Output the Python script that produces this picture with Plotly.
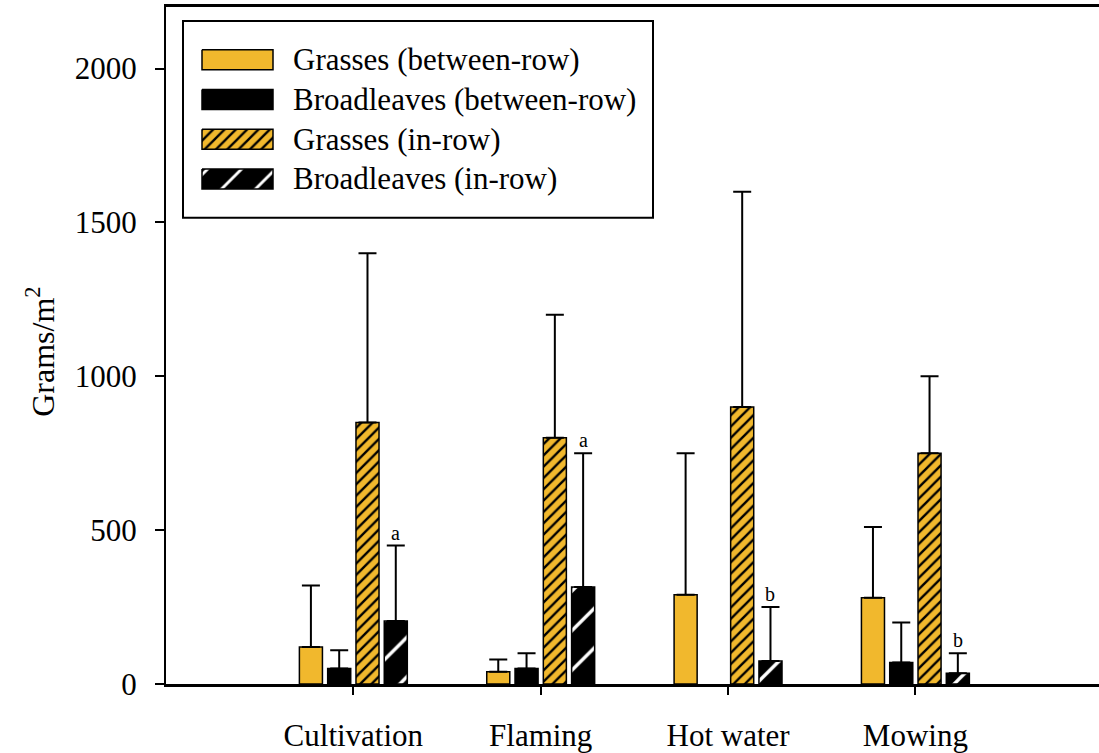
import plotly.graph_objects as go

# Weed biomass by control method (g/m^2), mean with upper error
categories = ["Cultivation", "Flaming", "Hot water", "Mowing"]
positions = [1, 2, 3, 4]

grass_between = [120, 40, 290, 280]
grass_between_err = [200, 40, 460, 230]
broad_between = [50, 50, None, 70]
broad_between_err = [60, 50, None, 130]
grass_in = [850, 800, 900, 750]
grass_in_err = [550, 400, 700, 250]
broad_in = [205, 315, 75, 35]
broad_in_err = [245, 435, 175, 65]
broad_in_letters = ["a", "a", "b", "b"]

y_ticks = [0, 500, 1000, 1500, 2000]

series_names = [
    "Grasses (between-row)",
    "Broadleaves (between-row)",
    "Grasses (in-row)",
    "Broadleaves (in-row)",
]

GOLD = "#F1B82D"
FONT = "Liberation Serif, Times New Roman, serif"
BARGAP = 0.396
BARGROUPGAP = 0.185

# fill styles per series: background, hatch shape/colour/spacing/thickness
styles = [
    dict(bg=GOLD, shape="", fg="black", size=8, solidity=0.3, leg_size=8),
    dict(bg="black", shape="", fg="black", size=8, solidity=0.3, leg_size=8),
    dict(bg=GOLD, shape="/", fg="black", size=8, solidity=0.3, leg_size=8),
    dict(bg="black", shape="/", fg="white", size=28, solidity=0.12, leg_size=24),
]

values = [grass_between, broad_between, grass_in, broad_in]
errors = [grass_between_err, broad_between_err, grass_in_err, broad_in_err]

fig = go.Figure()

for name, vals, errs, st in zip(series_names, values, errors, styles):
    fig.add_trace(go.Bar(
        x=positions,
        y=vals,
        name=name,
        showlegend=False,
        marker=dict(
            color=st["bg"],
            line=dict(color="black", width=1.5),
            pattern=dict(shape=st["shape"], fgcolor=st["fg"], bgcolor=st["bg"],
                         size=st["size"], solidity=st["solidity"], fgopacity=1),
        ),
        error_y=dict(type="data", symmetric=False, array=errs,
                     arrayminus=[0 if e is not None else None for e in errs],
                     color="black", thickness=2, width=9),
    ))

# letters above the in-row broadleaf error bars
slot = (1 - BARGAP) / 4
for p, v, e, letter in zip(positions, broad_in, broad_in_err, broad_in_letters):
    fig.add_annotation(x=p + 1.5 * slot, y=v + e, text=letter, showarrow=False,
                       xref="x", yref="y", yanchor="bottom", yshift=0,
                       font=dict(family=FONT, size=20, color="black"))

# legend drawn on an overlay pixel-scaled axis pair
L_LEFT, L_TOP, L_RIGHT, L_BOTTOM = 183, 21, 653, 219
row_centers = [60, 100, 140, 180]
sw_x0, sw_x1, sw_h = 202, 273, 10
for name, st, cy in zip(series_names, styles, row_centers):
    fig.add_trace(go.Scatter(
        x=[sw_x0, sw_x1, sw_x1, sw_x0, sw_x0],
        y=[cy - sw_h, cy - sw_h, cy + sw_h, cy + sw_h, cy - sw_h],
        xaxis="x2", yaxis="y2",
        mode="lines", fill="toself", fillcolor=st["bg"],
        fillpattern=dict(shape=st["shape"], fgcolor=st["fg"], bgcolor=st["bg"],
                         size=st["leg_size"], solidity=st["solidity"], fgopacity=1),
        line=dict(color="black", width=1.5),
        showlegend=False, hoverinfo="skip",
    ))
    fig.add_annotation(x=291, y=cy, xref="x2", yref="y2", text=name,
                       showarrow=False, xanchor="left", yanchor="middle",
                       font=dict(family=FONT, size=31, color="black"))

fig.add_shape(type="rect", xref="x2", yref="y2",
              x0=L_LEFT, x1=L_RIGHT, y0=L_TOP, y1=L_BOTTOM,
              line=dict(color="black", width=2), fillcolor="rgba(0,0,0,0)")

fig.add_annotation(x=-0.1345, y=0.49, xref="paper", yref="paper",
                   text="Grams/m<sup>2</sup>", textangle=-90, showarrow=False,
                   xanchor="center", yanchor="middle",
                   font=dict(family=FONT, size=32, color="black"))

fig.update_layout(
    width=1099, height=753,
    margin=dict(l=166, r=0, t=7, b=65),
    paper_bgcolor="white", plot_bgcolor="white",
    barmode="group", bargap=BARGAP, bargroupgap=BARGROUPGAP,
    font=dict(family=FONT, size=31, color="black"),
    xaxis=dict(range=[0, 4.98], tickmode="array", tickvals=positions,
               ticktext=categories, ticks="outside", ticklen=8, tickwidth=1.5,
               tickcolor="black", showline=True, linewidth=2.5, linecolor="black",
               mirror=True, showgrid=False, zeroline=False,
               ticklabelstandoff=14, tickfont=dict(family=FONT, size=31)),
    yaxis=dict(range=[0, 2200], tickmode="array", tickvals=y_ticks,
               ticks="outside", ticklen=9, tickwidth=1.5, tickcolor="black",
               showline=True, linewidth=2, linecolor="black",
               showgrid=False, zeroline=False, ticklabelstandoff=12,
               tickfont=dict(family=FONT, size=31)),
    xaxis2=dict(overlaying="x", range=[166, 1099], visible=False),
    yaxis2=dict(overlaying="y", range=[688, 7], visible=False),
)

fig.write_html("out.html")
